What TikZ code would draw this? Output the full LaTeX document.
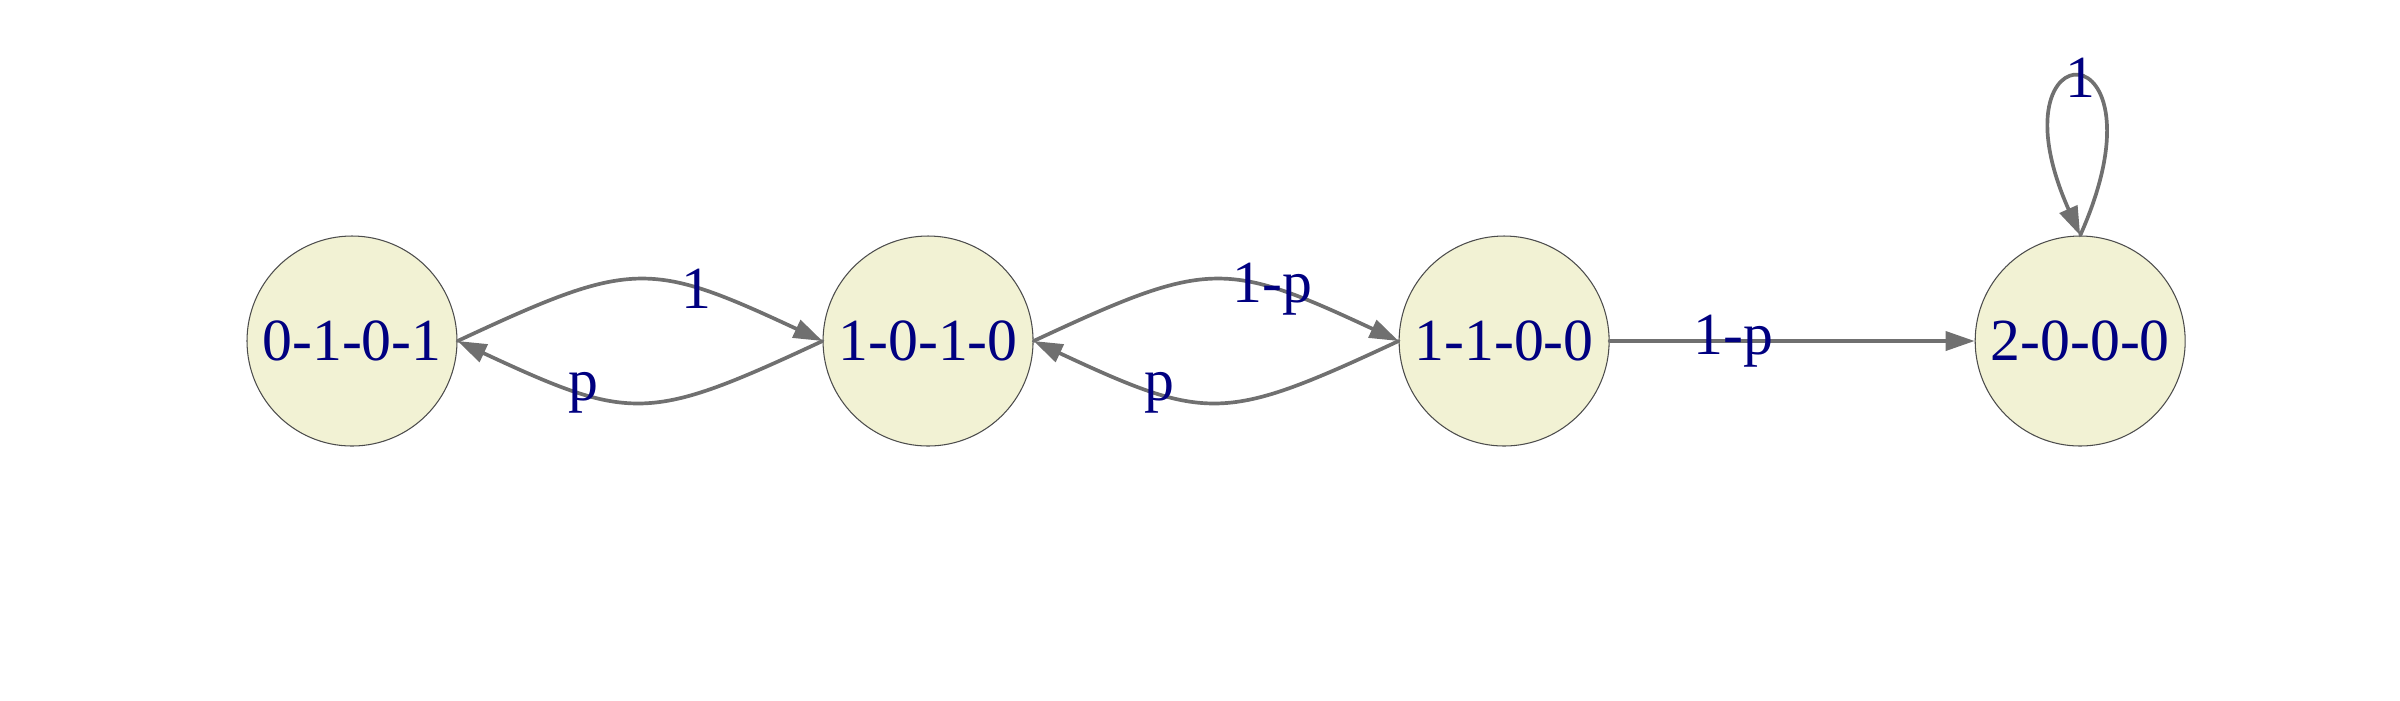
\documentclass[tikz,border=0pt]{standalone}
\usepackage{fontspec}
\setmainfont{Liberation Serif}
\usetikzlibrary{positioning,arrows.meta}
\definecolor{statefill}{RGB}{242,242,212}
\definecolor{edgegray}{RGB}{112,112,112}
\definecolor{labelblue}{RGB}{0,0,128}
\begin{document}
\begin{tikzpicture}[>={Triangle[length=0.29cm,width=0.19cm]}, font=\fontsize{17}{20}\selectfont, line join=round, line cap=round,
	state/.style={circle, draw=black!70, line width=0.3pt, fill=statefill, minimum size=2.1cm, inner sep=0pt, text=labelblue},
	trans/.style={->, draw=edgegray, line width=1.05pt},
	lbl/.style={text=labelblue, inner sep=0pt},
	node distance=3.65cm]
	\useasboundingbox (0,0) rectangle (24,7);
	% Trạng thái
	\node[state] (s0101) at (3.52,3.59) {0-1-0-1};
	\node[state, right=of s0101] (s1010) {1-0-1-0};
	\node[state, right=of s1010] (s1100) {1-1-0-0};
	\node[state, right=of s1100] (s2000) {2-0-0-0};
	% Chuyển trạng thái
	\draw[trans] (s0101.east) to[out=25,in=155,looseness=1.35] node[lbl,pos=0.69]{1} (s1010.west);
	\draw[trans] (s1010.west) to[out=-155,in=-25,looseness=1.35] node[lbl,pos=0.69]{p} (s0101.east);
	\draw[trans] (s1010.east) to[out=25,in=155,looseness=1.35] node[lbl,pos=0.69]{1-p} (s1100.west);
	\draw[trans] (s1100.west) to[out=-155,in=-25,looseness=1.35] node[lbl,pos=0.69]{p} (s1010.east);
	\draw[trans] (s1100.east) -- node[lbl,pos=0.34]{1-p} (s2000.west);
	\draw[trans] (s2000.north) to[out=66,in=114,min distance=2.3cm] node[lbl]{1} (s2000.north);
\end{tikzpicture}
\end{document}
